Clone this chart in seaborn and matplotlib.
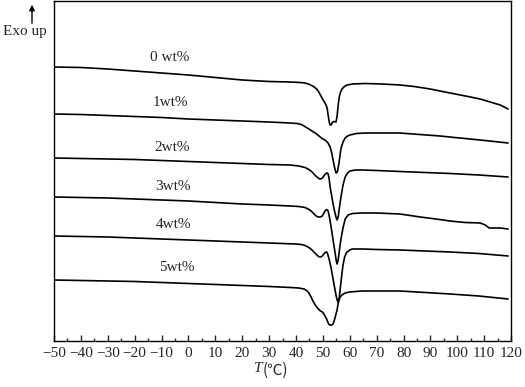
import numpy as np
import pandas as pd
import matplotlib
matplotlib.use("Agg")
import matplotlib.pyplot as plt
from matplotlib.ticker import MultipleLocator
import seaborn as sns

# ---- data (T in degC, heat flow in a.u., curves already offset) ----
t_0 = [-50, -40, -30, -20, -10, 0, 10, 20, 30, 37.8, 41.5, 43.4, 44.6, 45.8, 46.8, 47.7, 48.5,
       49.3, 50.1, 51.0, 51.6, 51.9, 52.3, 52.7, 53.1, 53.5, 54.2, 54.9, 55.3, 55.7, 56.1, 56.6,
       57.1, 58.0, 59.0, 61.0, 65.7, 72.0, 78.7, 84.0, 89.9, 94.5, 99.2, 104.0, 108.5, 112.2,
       116.0, 118.9]
hf_0 = [27.4, 27.35, 27.2, 27.0, 26.8, 26.6, 26.35, 26.1, 25.95, 25.9, 25.85, 25.8, 25.7, 25.55,
        25.4, 25.2, 24.9, 24.5, 24.1, 23.7, 23.3, 22.7, 22.0, 21.6, 21.6, 21.85, 21.95, 21.9,
        22.5, 23.6, 24.4, 24.9, 25.2, 25.45, 25.6, 25.7, 25.75, 25.7, 25.6, 25.45, 25.2, 24.95,
        24.7, 24.45, 24.2, 23.9, 23.6, 23.2]

t_1 = [-50, -40, -30, -20, -10, 0, 10, 20, 30, 37.8, 40.5, 42.0, 43.3, 44.5, 45.7, 46.8, 47.7,
       49.0, 50.0, 50.8, 51.8, 52.7, 53.3, 53.8, 54.4, 54.9, 55.4, 56.0, 56.4, 56.8, 57.5, 58.3,
       59.2, 60.1, 62.5, 65.7, 72.0, 78.7, 86.0, 93.6, 99.0, 104.8, 112.0, 118.9]
hf_1 = [22.7, 22.65, 22.55, 22.45, 22.35, 22.2, 22.1, 22.0, 21.9, 21.8, 21.75, 21.65, 21.45,
        21.25, 21.05, 20.85, 20.7, 20.4, 20.2, 20.1, 19.85, 19.4, 18.8, 18.1, 17.3, 16.8, 16.9,
        17.8, 18.6, 19.3, 19.9, 20.3, 20.5, 20.6, 20.75, 20.8, 20.8, 20.8, 20.65, 20.5, 20.35,
        20.2, 20.0, 19.8]

t_2 = [-50, -40, -30, -20, -10, 0, 10, 20, 30, 37.8, 41.0, 43.4, 44.8, 46.0, 47.0, 47.8, 48.5,
       49.0, 49.6, 50.1, 50.8, 51.4, 51.9, 52.3, 52.7, 53.3, 53.8, 54.5, 55.0, 55.3, 55.7, 56.4,
       57.0, 57.5, 58.3, 59.2, 60.1, 62.0, 64.6, 70.0, 78.7, 88.0, 97.3, 108.0, 118.9]
hf_2 = [18.3, 18.25, 18.2, 18.15, 18.05, 17.95, 17.85, 17.75, 17.65, 17.6, 17.5, 17.35, 17.15,
        16.9, 16.6, 16.4, 16.25, 16.2, 16.25, 16.4, 16.65, 16.8, 16.75, 16.3, 15.4, 14.5, 13.7,
        12.8, 12.3, 12.1, 12.4, 13.8, 14.8, 15.6, 16.4, 16.8, 17.0, 17.1, 17.1, 17.05, 16.95,
        16.85, 16.75, 16.6, 16.4]

t_3 = [-50, -40, -30, -20, -10, 0, 10, 20, 30, 37.8, 41.0, 43.4, 45.2, 46.2, 47.1, 47.8, 48.3,
       49.0, 49.8, 50.3, 50.8, 51.4, 51.9, 52.3, 52.7, 53.3, 53.8, 54.5, 55.0, 55.3, 55.7, 56.4,
       57.0, 57.5, 58.3, 59.4, 61.0, 64.6, 70.0, 78.7, 86.2, 92.0, 97.3, 102.9, 108.5, 110.4,
       111.9, 116.0, 118.9]
hf_3 = [14.4, 14.35, 14.3, 14.2, 14.1, 14.0, 13.85, 13.7, 13.6, 13.5, 13.45, 13.35, 13.1, 12.85,
        12.6, 12.45, 12.4, 12.4, 12.5, 12.75, 13.0, 13.15, 13.05, 12.6, 12.0, 11.0, 10.1, 8.9,
        8.0, 7.7, 8.1, 9.6, 10.6, 11.3, 12.2, 12.6, 12.75, 12.8, 12.8, 12.7, 12.4, 12.2, 12.0,
        11.85, 11.8, 11.6, 11.3, 11.3, 11.2]

t_4 = [-50, -40, -30, -20, -10, 0, 10, 20, 30, 39.7, 42.0, 43.4, 44.8, 46.0, 47.0, 47.8, 48.4,
       49.0, 49.6, 50.1, 50.7, 51.2, 51.6, 51.9, 52.4, 53.0, 53.6, 54.2, 54.8, 55.3, 55.7, 56.1,
       56.4, 57.0, 57.5, 58.1, 58.8, 60.0, 60.9, 64.6, 70.0, 78.7, 88.0, 97.3, 108.0, 118.9]
hf_4 = [10.5, 10.45, 10.4, 10.3, 10.2, 10.1, 10.0, 9.9, 9.8, 9.7, 9.65, 9.55, 9.35, 9.1, 8.8,
        8.6, 8.45, 8.4, 8.45, 8.6, 8.8, 8.9, 8.85, 8.6, 8.1, 7.4, 6.5, 5.6, 4.7, 4.1, 3.9, 4.3,
        5.1, 6.5, 7.6, 8.4, 8.85, 9.1, 9.2, 9.2, 9.15, 9.1, 9.0, 8.9, 8.75, 8.5]

t_5 = [-50, -40, -30, -20, -10, 0, 10, 20, 30, 37.8, 41.0, 43.0, 44.0, 44.8, 45.6, 46.4, 47.3,
       48.3, 49.1, 49.8, 50.3, 50.8, 51.4, 51.9, 52.3, 52.7, 53.3, 53.8, 54.3, 54.8, 55.3, 55.7,
       56.3, 57.1, 58.3, 60.0, 64.6, 70.0, 78.7, 88.0, 97.3, 108.0, 118.9]
hf_5 = [6.1, 6.05, 6.0, 5.95, 5.85, 5.75, 5.65, 5.55, 5.45, 5.35, 5.3, 5.2, 5.05, 4.8, 4.4,
        3.95, 3.55, 3.2, 3.0, 2.9, 2.75, 2.5, 2.2, 1.85, 1.65, 1.6, 1.6, 1.7, 2.1, 2.6, 3.1, 3.8,
        4.35, 4.6, 4.8, 4.9, 5.0, 5.0, 5.0, 4.85, 4.7, 4.5, 4.2]

samples = ["0 wt%", "1wt%", "2wt%", "3wt%", "4wt%", "5wt%"]
all_t = [t_0, t_1, t_2, t_3, t_4, t_5]
all_hf = [hf_0, hf_1, hf_2, hf_3, hf_4, hf_5]

# label anchor points (T, heat flow)
label_t = [-6.8, -6.8, -6.1, -5.7, -5.4, -4.2]
label_hf = [28.4, 23.9, 19.3, 15.4, 11.6, 7.3]

df = pd.concat(
    [pd.DataFrame({"T": t, "hf": h, "sample": s}) for t, h, s in zip(all_t, all_hf, samples)],
    ignore_index=True,
)

# ---- style ----
sns.set_style("ticks")
plt.rcParams["font.family"] = ["Liberation Serif", "Noto Sans CJK SC", "DejaVu Sans"]

fig = plt.figure(figsize=(5.25, 3.87), dpi=100)
ax = fig.add_axes([0.1029, 0.1189, 0.8705, 0.8785])

sns.lineplot(data=df, x="T", y="hf", hue="sample", units="sample", estimator=None,
             sort=False, palette=["black"] * 6, linewidth=1.2, legend=False, ax=ax)

for s, lt, lh in zip(samples, label_t, label_hf):
    ax.text(lt, lh, s, ha="center", va="center", fontsize=11)

ax.set_xlim(-50, 120)
ax.set_ylim(0, 34.0)
ax.xaxis.set_major_locator(MultipleLocator(10))
ax.xaxis.set_minor_locator(MultipleLocator(5))
ax.tick_params(axis="x", which="major", direction="in", length=4, width=1, pad=4,
               labelsize=11, top=False)
ax.tick_params(axis="x", which="minor", direction="in", length=2.5, width=1, top=False)
ax.set_yticks([])
for sp in ax.spines.values():
    sp.set_visible(True)
    sp.set_linewidth(1.0)
    sp.set_color("black")

ax.set_xlabel("")
ax.set_ylabel("")
# axis title: italic T followed by (℃)
ax.text(0.457, -0.062, "T", transform=ax.transAxes, ha="right", va="top",
        fontsize=11, style="italic")
ax.text(0.457, -0.062, "(℃)", transform=ax.transAxes, ha="left", va="top",
        fontsize=11, family=["Noto Sans CJK SC", "Liberation Serif"])

# "Exo up" with arrow
fig.text(25 / 525, 1 - 32 / 387, "Exo up", ha="center", va="center", fontsize=11)
fig.add_artist(matplotlib.patches.FancyArrowPatch(
    (32 / 525, 1 - 26 / 387), (32 / 525, 1 - 2 / 387), transform=fig.transFigure,
    arrowstyle="-|>", mutation_scale=8, color="black", linewidth=1.0))

fig.savefig("out.png", dpi=100)
